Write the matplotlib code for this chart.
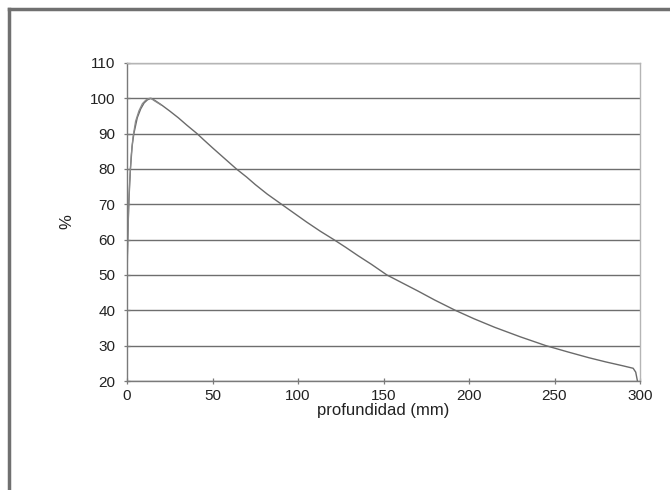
import matplotlib
matplotlib.use("Agg")
import matplotlib.pyplot as plt
from matplotlib.lines import Line2D

# curva de dosis en profundidad (%)
profundidad = [0, 0.5, 1, 2, 3, 4, 6, 8, 10, 12, 14, 16, 20, 25, 30, 35, 41, 45, 50, 57,
               64, 70, 75, 82, 91, 98, 105, 113, 121, 128, 135, 143, 152, 160, 170, 180,
               192, 203, 215, 230, 245, 258, 270, 280, 290, 296, 297.5, 298.5]
dosis = [52, 62, 70, 80, 86.5, 90, 94.5, 97, 98.7, 99.6, 100, 99.5, 98.2, 96.4, 94.5, 92.4,
         90, 88.2, 86, 83, 80, 77.7, 75.6, 72.9, 69.8, 67.4, 65, 62.4, 60, 57.8, 55.5, 53,
         50, 48, 45.5, 42.9, 40, 37.6, 35.2, 32.5, 30, 28.2, 26.6, 25.4, 24.3, 23.6, 22.5, 20]

# segunda serie (solo difiere en la zona de build-up)
profundidad_2 = [0, 0.5, 1, 1.5, 2.5, 3.5, 5, 7, 9, 11, 13, 14, 16, 20]
dosis_2 = [48, 60, 69, 76, 84, 89, 93.5, 96.5, 98.5, 99.5, 100, 100, 99.3, 98.1]

yticks = list(range(20, 111, 10))
xticks = list(range(0, 301, 50))

plt.rcParams['font.family'] = ['Liberation Sans', 'DejaVu Sans']

fig = plt.figure(figsize=(6.7, 4.9), dpi=100)
fig.patch.set_facecolor('white')

# marco gris del grafico (solo visible arriba y a la izquierda)
fig.add_artist(Line2D([9 / 670, 9 / 670], [0, 1 - 9 / 490], color='#707070', lw=2.5,
                      transform=fig.transFigure))
fig.add_artist(Line2D([9 / 670, 1], [1 - 9 / 490, 1 - 9 / 490], color='#707070', lw=2.5,
                      transform=fig.transFigure))

ax = fig.add_axes([127 / 670, 1 - 381 / 490, (640 - 127) / 670, (381 - 63) / 490])

ax.plot(profundidad, dosis, color='#6a6a6a', lw=1.0)
ax.plot(profundidad_2, dosis_2, color='#8a8a8a', lw=0.9)

ax.set_xlim(0, 300)
ax.set_ylim(20, 110)
ax.set_xticks(xticks)
ax.set_yticks(yticks)
ax.yaxis.grid(True, color='#6e6e6e', lw=1.0)
ax.set_axisbelow(True)

for s in ['left', 'bottom']:
    ax.spines[s].set_color('#7a7a7a')
    ax.spines[s].set_linewidth(1.0)
for s in ['top', 'right']:
    ax.spines[s].set_color('#b5b5b5')
    ax.spines[s].set_linewidth(1.0)

ax.tick_params(axis='both', direction='inout', length=5, width=0.9, color='#7a7a7a',
               labelsize=11, labelcolor='#222222')
ax.tick_params(axis='y', pad=6)
ax.tick_params(axis='x', pad=3)

ax.set_xlabel('profundidad (mm)', fontsize=12, color='#222222', labelpad=0)
ax.set_ylabel('%', fontsize=12, color='#222222', labelpad=11)

fig.savefig('out.png', dpi=100, facecolor='white')
plt.close()
